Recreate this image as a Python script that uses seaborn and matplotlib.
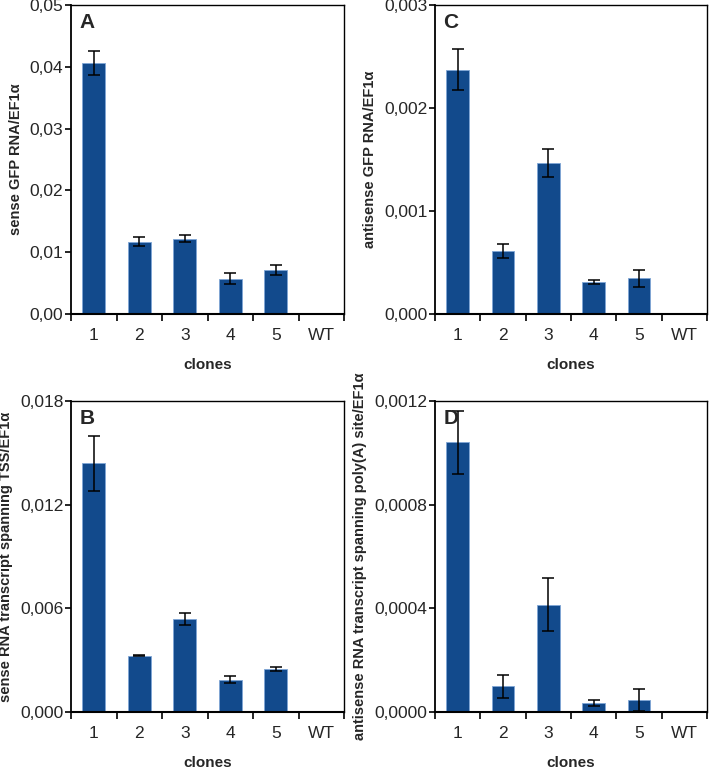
import matplotlib
matplotlib.use("Agg")
import matplotlib.pyplot as plt
import seaborn as sns
import numpy as np
import pandas as pd
from matplotlib.ticker import FuncFormatter, FixedLocator

sns.set_theme(style="white")
plt.rcParams["font.family"] = ["Liberation Sans", "DejaVu Sans"]

clones = ["1", "2", "3", "4", "5", "WT"]

# panel A: sense GFP RNA
sense_gfp = [0.0406, 0.0117, 0.0122, 0.0057, 0.0071, 0.0]
sense_gfp_err = [0.0019, 0.0007, 0.0006, 0.0009, 0.0008, 0.0]

# panel C: antisense GFP RNA
antisense_gfp = [0.00237, 0.000614, 0.00147, 0.000307, 0.000346, 0.0]
antisense_gfp_err = [0.0002, 0.00007, 0.000136, 0.00002, 0.000084, 0.0]

# panel B: sense transcript spanning TSS
sense_tss = [0.01439, 0.00327, 0.0054, 0.00186, 0.00251, 0.0]
sense_tss_err = [0.0016, 0.00004, 0.00035, 0.0002, 0.00012, 0.0]

# panel D: antisense transcript spanning poly(A) site
antisense_polya = [0.00104, 0.0000996, 0.000414, 0.000035, 0.0000466, 0.0]
antisense_polya_err = [0.000123, 0.000045, 0.000103, 0.00001, 0.000041, 0.0]

bar_color = "#124a8c"

panels = [
    ("A", sense_gfp, sense_gfp_err, "sense GFP RNA/EF1α", 0.05, 0.01, 2,
     [71, 5, 273, 309]),
    ("C", antisense_gfp, antisense_gfp_err, "antisense GFP RNA/EF1α", 0.003, 0.001, 3,
     [435, 5, 272, 309]),
    ("B", sense_tss, sense_tss_err, "sense RNA transcript spanning TSS/EF1α", 0.018, 0.006, 3,
     [71, 401, 273, 311]),
    ("D", antisense_polya, antisense_polya_err,
     "antisense RNA transcript spanning poly(A) site/EF1α", 0.0012, 0.0004, 4,
     [435, 401, 272, 311]),
]

W, H = 709, 769
fig = plt.figure(figsize=(W / 100, H / 100), dpi=100)

for letter, vals, errs, ylabel, ymax, step, dec, box in panels:
    x0, y0, w, h = box
    ax = fig.add_axes([x0 / W, 1 - (y0 + h) / H, w / W, h / H])
    df = pd.DataFrame({"clone": clones, "value": vals})
    sns.barplot(data=df, x="clone", y="value", color=bar_color, width=0.5,
                edgecolor="#7fa6d6", linewidth=0.6, saturation=1, ax=ax)
    ax.errorbar(np.arange(len(clones))[:5], vals[:5], yerr=errs[:5], fmt="none",
                ecolor="black", elinewidth=1.1, capsize=4, capthick=1.1)

    ax.set_xlim(-0.5, len(clones) - 0.5)
    ax.set_ylim(0, ymax)
    ax.set_yticks(np.arange(0, ymax + step / 2, step))
    ax.yaxis.set_major_formatter(
        FuncFormatter(lambda v, p, d=dec: f"{v:.{d}f}".replace(".", ",")))
    ax.xaxis.set_minor_locator(FixedLocator(np.arange(-0.5, len(clones), 1.0)))
    ax.tick_params(axis="x", which="major", length=0, pad=10, labelsize=12.5)
    ax.tick_params(axis="x", which="minor", length=5, width=1.2, color="black",
                   direction="out", bottom=True)
    ax.tick_params(axis="y", length=4, width=1.2, color="black", direction="out",
                   left=True, labelsize=12.5, pad=1.5)
    for s in ax.spines.values():
        s.set_color("black")
        s.set_linewidth(1.0)
    ax.spines["bottom"].set_linewidth(1.5)
    ax.spines["left"].set_linewidth(1.3)

    ax.set_xlabel("clones", fontsize=11, fontweight="bold", labelpad=11)
    ax.set_ylabel(ylabel, fontsize=10.5, fontweight="bold", labelpad=5)
    ax.text(0.03, 0.975, letter, transform=ax.transAxes, fontsize=15,
            fontweight="bold", va="top", ha="left")

fig.savefig("out.png", dpi=100)
